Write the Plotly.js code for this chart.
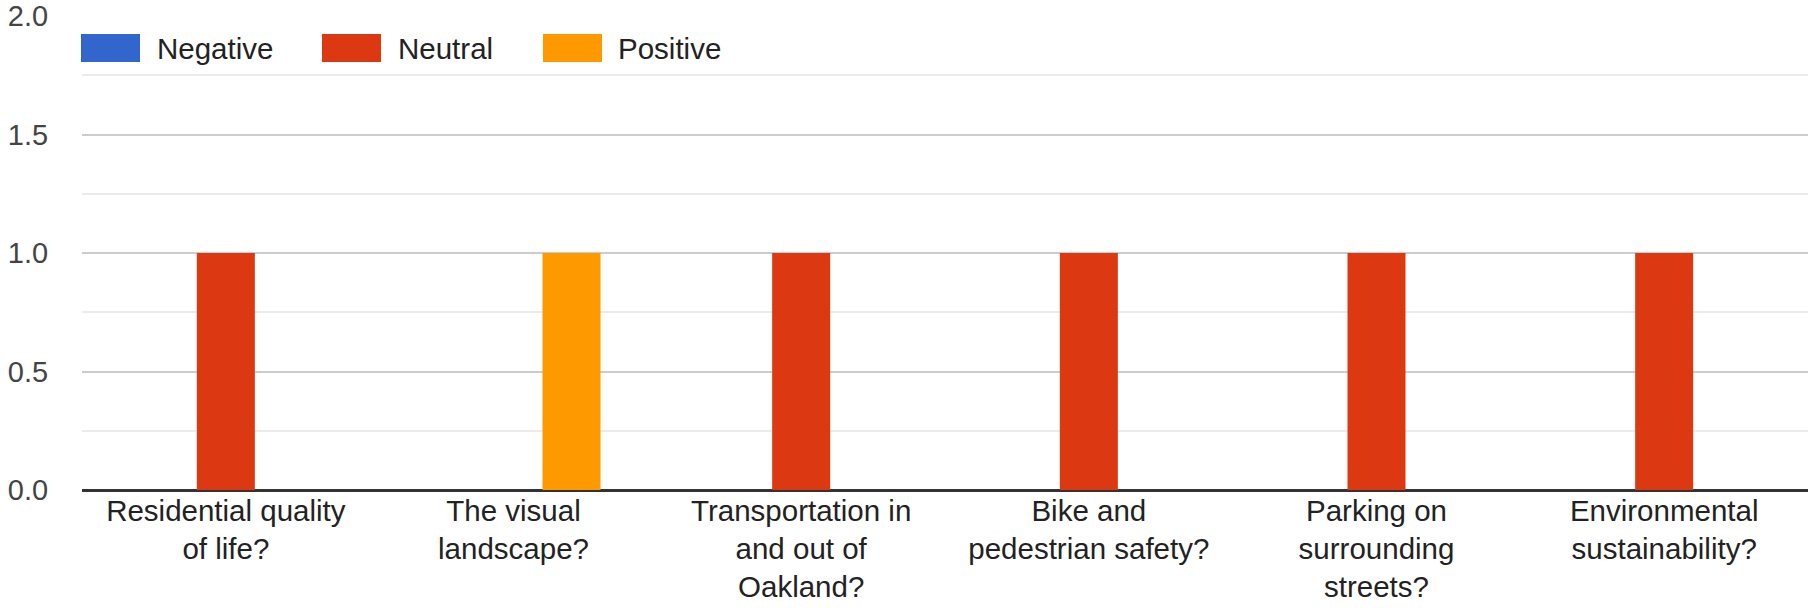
<!DOCTYPE html>
<html>
<head>
<meta charset="utf-8">
<script src="https://cdn.plot.ly/plotly-3.0.1.min.js"></script>
<style>
html,body{margin:0;padding:0;background:#fff;}
#chart{width:1810px;height:608px;}
</style>
</head>
<body>
<div id="chart"></div>
<script>
const categories = [
  "Residential quality<br>of life?",
  "The visual<br>landscape?",
  "Transportation in<br>and out of<br>Oakland?",
  "Bike and<br>pedestrian safety?",
  "Parking on<br>surrounding<br>streets?",
  "Environmental<br>sustainability?"
];
const seriesNames = ["Negative", "Neutral", "Positive"];
const negativeValues = [0, 0, 0, 0, 0, 0];
const neutralValues  = [1, 0, 1, 1, 1, 1];
const positiveValues = [0, 1, 0, 0, 0, 0];
const seriesColors = ["#3366cc", "#dc3912", "#ff9900"];
const yTickVals = [0, 0.5, 1, 1.5, 2];
const yTickText = ["0.0", "0.5", "1.0", "1.5", "2.0"];

const FONT = '"Liberation Sans", Arial, sans-serif';
const W = 1810, H = 608;
const M = {l: 82, r: 2, t: 16, b: 118};
const plotW = W - M.l - M.r, plotH = H - M.t - M.b;
const px = x => (x - M.l) / plotW;
const py = y => (H - M.b - y) / plotH;

const allValues = [negativeValues, neutralValues, positiveValues];
const traces = seriesNames.map((name, i) => ({
  type: 'bar',
  name: name,
  x: categories,
  y: allValues[i],
  marker: {color: seriesColors[i], line: {width: 0}},
  hoverinfo: 'x+y+name',
  showlegend: false
}));

// custom legend (large swatches like the reference)
const legendItems = [
  {sx0: 81, sx1: 140, tx: 155},
  {sx0: 322, sx1: 381, tx: 396},
  {sx0: 543, sx1: 602, tx: 616}
];
const shapes = [];
const annotations = [];
legendItems.forEach((it, i) => {
  shapes.push({
    type: 'rect', xref: 'paper', yref: 'paper',
    x0: px(it.sx0), x1: px(it.sx1), y0: py(62), y1: py(34),
    fillcolor: seriesColors[i], line: {width: 0}, layer: 'above'
  });
  annotations.push({
    xref: 'paper', yref: 'paper', x: px(it.tx), y: py(48.5),
    xanchor: 'left', yanchor: 'middle', showarrow: false,
    text: seriesNames[i], font: {family: FONT, size: 29.5, color: '#222'}
  });
});

const layout = {
  width: W, height: H,
  margin: M,
  paper_bgcolor: '#fff', plot_bgcolor: '#fff',
  barmode: 'group',
  bargap: 0.395,
  bargroupgap: 0,
  font: {family: FONT, color: '#222'},
  xaxis: {
    type: 'category',
    showgrid: false, zeroline: false, showline: false,
    ticks: '', ticklen: 0,
    tickfont: {family: FONT, size: 29.5, color: '#222'},
    fixedrange: true
  },
  yaxis: {
    range: [0, 2],
    tickvals: yTickVals, ticktext: yTickText,
    showgrid: true, gridcolor: '#cccccc', gridwidth: 2,
    minor: {dtick: 0.25, showgrid: true, gridcolor: '#ebebeb', gridwidth: 2, ticks: ''},
    zeroline: true, zerolinecolor: '#333333', zerolinewidth: 3,
    showline: false,
    ticks: 'outside', ticklen: 27, tickcolor: 'rgba(0,0,0,0)',
    tickfont: {family: FONT, size: 29, color: '#444'},
    fixedrange: true
  },
  shapes: shapes,
  annotations: annotations,
  showlegend: false
};

Plotly.newPlot('chart', traces, layout, {displayModeBar: false, staticPlot: true});
</script>
</body>
</html>
